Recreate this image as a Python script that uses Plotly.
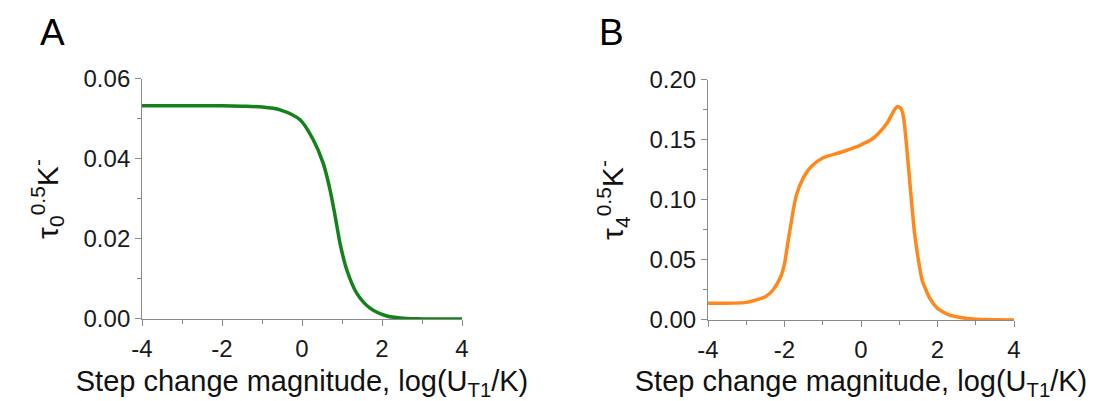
import plotly.graph_objects as go

# Panel A data
xa = [-4.0, -3.0, -2.0, -1.5, -1.0, -0.55, -0.05, 0.28, 0.53, 0.70, 0.83, 0.95, 1.12, 1.37, 1.70, 2.12, 2.62, 3.0, 3.5, 4.0]
ya = [0.0533, 0.0533, 0.0533, 0.0532, 0.0530, 0.0523, 0.0498, 0.0448, 0.0389, 0.0323, 0.0256, 0.0189, 0.01225,
      0.0064, 0.0027, 0.00075, 0.0001, 0.00003, 0.0, 0.0]

# Panel B data
xb = [-4.0, -3.0, -2.5, -2.3, -2.1, -2.0, -1.9, -1.8, -1.7, -1.5, -1.3, -1.0, -0.5, 0.0, 0.3, 0.5, 0.7, 0.85, 0.95,
      1.05, 1.12, 1.2, 1.3, 1.4, 1.5, 1.6, 1.8, 2.0, 2.3, 2.6, 3.0, 3.5, 4.0]
yb = [0.0139, 0.0147, 0.0194, 0.025, 0.036, 0.047, 0.067, 0.086, 0.103, 0.119, 0.128, 0.135, 0.140, 0.146, 0.151,
      0.157, 0.165, 0.174, 0.178, 0.176, 0.167, 0.142, 0.106, 0.072, 0.050, 0.033, 0.018, 0.0097, 0.0042, 0.002,
      0.0006, 0.0002, 0.0001]

xticks = [-4, -2, 0, 2, 4]
xtick_text = ["-4", "-2", "0", "2", "4"]
ya_ticks = [0.00, 0.02, 0.04, 0.06]
ya_text = ["0.00", "0.02", "0.04", "0.06"]
yb_ticks = [0.00, 0.05, 0.10, 0.15, 0.20]
yb_text = ["0.00", "0.05", "0.10", "0.15", "0.20"]

xtitle = "Step change magnitude, log(U<sub>T1</sub>/K)"
ytitle_a = "τ<sub>0</sub><sup>0.5</sup>K<sup>-</sup>"
ytitle_b = "τ<sub>4</sub><sup>0.5</sup>K<sup>-</sup>"

FONT = "Arial, Liberation Sans, sans-serif"
AXC = "#8a8a8a"

fig = go.Figure()
fig.add_trace(go.Scatter(x=xa, y=ya, mode="lines", line=dict(color="#14821a", width=3.5, shape="spline", smoothing=0.8),
                         xaxis="x", yaxis="y", showlegend=False))
fig.add_trace(go.Scatter(x=xb, y=yb, mode="lines", line=dict(color="#ff881c", width=3.5, shape="spline", smoothing=0.6),
                         xaxis="x2", yaxis="y2", showlegend=False))

def xax(domain, anchor):
    return dict(domain=domain, anchor=anchor, range=[-4, 4], tickmode="array", tickvals=xticks, ticktext=xtick_text,
                showgrid=False, zeroline=False, showline=True, linecolor=AXC, linewidth=1, automargin=False,
                ticks="outside", ticklen=6, tickcolor=AXC, ticklabelstandoff=2,
                minor=dict(ticks="outside", ticklen=4, tickcolor=AXC, dtick=1, tick0=0, showgrid=False),
                tickfont=dict(family=FONT, size=24, color="#1a1a1a"),
                title=dict(text=xtitle, font=dict(family=FONT, size=29, color="#111"), standoff=12))

def yax(domain, anchor, rng, tv, tt, dminor, title):
    return dict(domain=domain, anchor=anchor, range=rng, tickmode="array", tickvals=tv, ticktext=tt,
                showgrid=False, zeroline=False, showline=True, linecolor=AXC, linewidth=1, automargin=False,
                ticks="outside", ticklen=6, tickcolor=AXC,
                minor=dict(ticks="outside", ticklen=4, tickcolor=AXC, dtick=dminor, tick0=0, showgrid=False),
                tickfont=dict(family=FONT, size=24, color="#1a1a1a"),
                title=dict(text=title, font=dict(family=FONT, size=30, color="#111"), standoff=16))

fig.update_layout(
    width=1108, height=401, margin=dict(l=0, r=0, t=0, b=0, pad=0, autoexpand=False),
    paper_bgcolor="white", plot_bgcolor="white", showlegend=False,
    xaxis=xax([0.1282, 0.4170], "y"),
    yaxis=yax([0.2045, 0.803], "x", [0, 0.06], ya_ticks, ya_text, 0.01, ytitle_a),
    xaxis2=xax([0.639, 0.9152], "y2"),
    yaxis2=yax([0.202, 0.8005], "x2", [0, 0.2], yb_ticks, yb_text, 0.025, ytitle_b),
    annotations=[
        dict(text="A", x=52 / 1108, y=1 - 33 / 401, xref="paper", yref="paper", showarrow=False,
             font=dict(family=FONT, size=37, color="#000"), xanchor="center", yanchor="middle"),
        dict(text="B", x=611 / 1108, y=1 - 33 / 401, xref="paper", yref="paper", showarrow=False,
             font=dict(family=FONT, size=37, color="#000"), xanchor="center", yanchor="middle"),
    ],
)

fig.write_html("out.html")
